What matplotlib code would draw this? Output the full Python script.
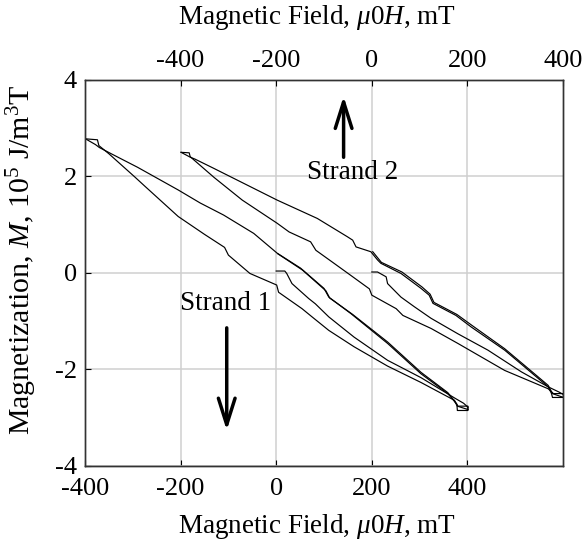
import matplotlib
matplotlib.use('Agg')
import matplotlib.pyplot as plt

plt.rcParams['font.family'] = ['Liberation Serif', 'DejaVu Serif']
plt.rcParams['mathtext.fontset'] = 'custom'
plt.rcParams['mathtext.rm'] = 'Liberation Serif'
plt.rcParams['mathtext.it'] = 'Liberation Serif:italic'
plt.rcParams['axes.unicode_minus'] = False

# Strand 1 (bottom axis, mT)
s1_virgin_h = [0, 18, 22, 33, 68, 82, 110, 163, 233, 303, 373, 392, 401]
s1_virgin_m = [0.04, 0.04, -0.01, -0.22, -0.53, -0.64, -0.91, -1.33, -1.81, -2.17, -2.59, -2.70, -2.78]

s1_down1_h = [401, 401, 379, 378, 359, 303, 233, 156, 110, 100, 51, 2, -47, -110, -159, -205, -290, -345, -370, -378, -399]
s1_down1_m = [-2.78, -2.85, -2.85, -2.72, -2.50, -2.09, -1.46, -0.84, -0.50, -0.32, 0.10, 0.41, 0.82, 1.20, 1.45, 1.72, 2.19, 2.47, 2.60, 2.66, 2.78]

s1_up_h = [-399, -374, -371, -350, -297, -275, -205, -150, -108, -100, -55, 1, 5, 54, 75, 110, 163, 233, 303, 373, 380, 401, 401]
s1_up_m = [2.78, 2.76, 2.64, 2.47, 2.00, 1.80, 1.17, 0.80, 0.53, 0.37, -0.01, -0.25, -0.40, -0.74, -0.91, -1.19, -1.53, -1.93, -2.27, -2.64, -2.76, -2.76, -2.83]

s1_down2_h = [401, 379, 372, 359, 303, 233, 160, 112, 104, 55, 3]
s1_down2_m = [-2.83, -2.76, -2.64, -2.48, -2.06, -1.43, -0.86, -0.52, -0.37, 0.06, 0.40]

# Strand 2 (top axis, mT)
s2_virgin_h = [0, 12, 30, 33, 61, 89, 124, 180, 243, 313, 369, 392, 401]
s2_virgin_m = [0.02, 0.02, -0.08, -0.22, -0.50, -0.70, -0.94, -1.26, -1.60, -2.05, -2.36, -2.47, -2.52]

s2_down1_h = [401, 401, 378, 376, 369, 320, 278, 208, 176, 128, 120, 103, 61, 19, 12, -2, -33, -40, -51, -114, -198, -331, -370, -380, -399]
s2_down1_m = [-2.52, -2.58, -2.58, -2.50, -2.36, -1.95, -1.60, -1.12, -0.88, -0.63, -0.46, -0.32, -0.01, 0.20, 0.27, 0.44, 0.54, 0.68, 0.75, 1.13, 1.51, 2.17, 2.36, 2.40, 2.50]

s2_up_h = [-399, -382, -380, -330, -271, -198, -173, -128, -117, -79, -44, -5, 0, 51, 65, 124, 180, 278, 369, 380, 401, 401]
s2_up_m = [2.50, 2.49, 2.41, 1.98, 1.51, 1.03, 0.85, 0.645, 0.47, 0.20, -0.05, -0.33, -0.46, -0.74, -0.88, -1.15, -1.46, -2.02, -2.40, -2.50, -2.50, -2.58]

s2_down2_h = [401, 378, 369, 320, 278, 210, 178, 130, 122, 105, 63, 20, 2]
s2_down2_m = [-2.58, -2.50, -2.33, -1.92, -1.57, -1.09, -0.86, -0.61, -0.44, -0.29, 0.02, 0.22, 0.44]

bottom_ticks = [-400, -200, 0, 200, 400]
top_ticks = [-400, -200, 0, 200, 400]
y_ticks = [-4, -2, 0, 2, 4]

fig = plt.figure(figsize=(5.83, 5.45), dpi=100)
ax = fig.add_axes([0.1458, 0.145, 0.8199, 0.7083])
ax2 = ax.twiny()

lw = 0.85
for hh, mm in [(s1_virgin_h, s1_virgin_m), (s1_down1_h, s1_down1_m),
               (s1_up_h, s1_up_m), (s1_down2_h, s1_down2_m)]:
    ax.plot(hh, mm, color='black', lw=lw)
for hh, mm in [(s2_virgin_h, s2_virgin_m), (s2_down1_h, s2_down1_m),
               (s2_up_h, s2_up_m), (s2_down2_h, s2_down2_m)]:
    ax2.plot(hh, mm, color='black', lw=lw)

ax.set_xlim(-400, 600)
ax.set_ylim(-4, 4)
ax2.set_xlim(-600, 400)
ax.set_xticks(bottom_ticks)
ax2.set_xticks(top_ticks)
ax.set_yticks(y_ticks)

ax.grid(True, color='#cfcfcf', lw=1.1)
ax.set_axisbelow(True)

fs = 19
ax.tick_params(axis='x', direction='in', length=4, labelsize=fs, pad=9)
ax.tick_params(axis='y', direction='in', length=4, labelsize=fs, pad=6, right=False)
ax2.tick_params(axis='x', direction='in', length=4, labelsize=fs, pad=6)
for a in (ax, ax2):
    for s in a.spines.values():
        s.set_color('#333333')
        s.set_linewidth(1.0)

xlab = r'Magnetic Field, $\mu\mathit{0}H$, mT'
ax.set_xlabel(xlab, fontsize=19.5)
ax.xaxis.set_label_coords(0.485, -0.119)
ax2.set_xlabel(xlab, fontsize=19.5)
ax2.xaxis.set_label_coords(0.485, 1.145)
ax.set_ylabel(r'Magnetization, $M$, 10$^5$ J/m$^3$T', fontsize=21.5)
ax.yaxis.set_label_coords(-0.097, 0.535)

arrow = dict(arrowstyle='->,head_length=1.9,head_width=0.6', lw=2.5, color='black')
ax.text(160, 2.09, 'Strand 2', fontsize=19.5, ha='center', va='center')
ax.annotate('', xy=(141, 3.72), xytext=(141, 2.34), arrowprops=arrow)
ax.text(-106, -0.63, 'Strand 1', fontsize=19.5, ha='center', va='center')
ax.annotate('', xy=(-103.5, -3.32), xytext=(-103.5, -1.08), arrowprops=arrow)

fig.savefig('out.png', dpi=100)
